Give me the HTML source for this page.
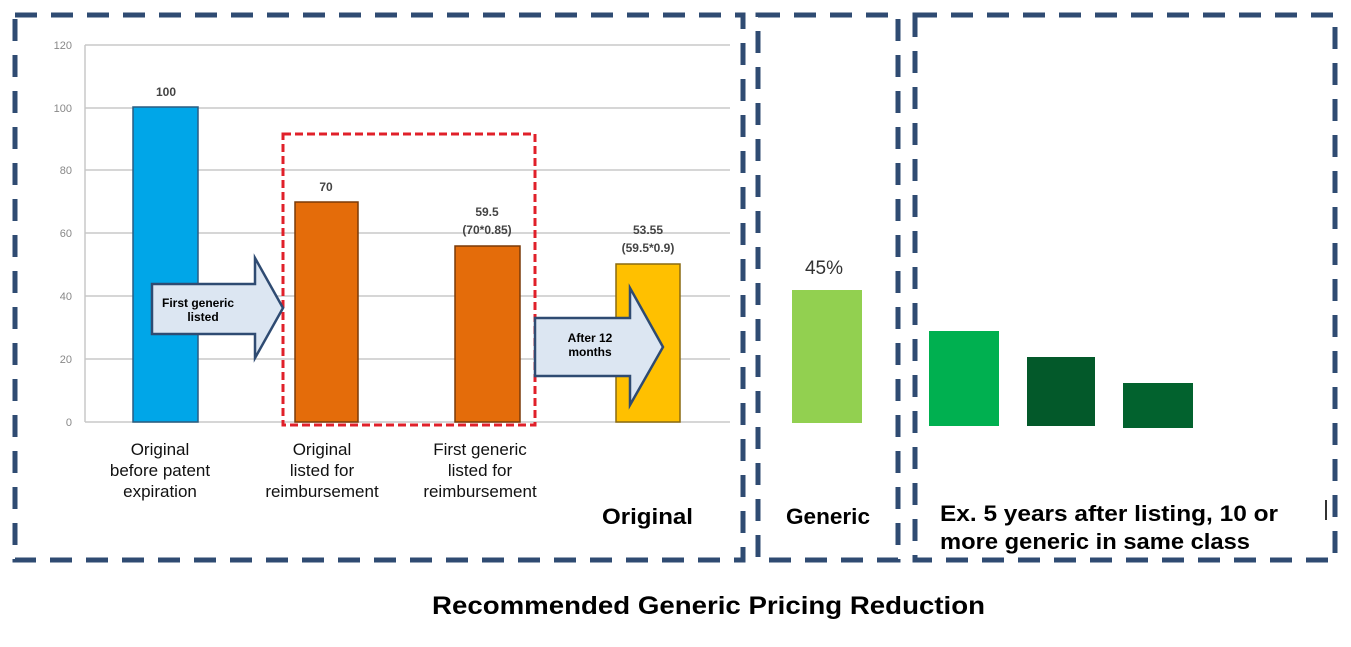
<!DOCTYPE html>
<html><head><meta charset="utf-8"><style>
html,body{margin:0;padding:0;background:#fff;width:1351px;height:647px;overflow:hidden}
svg{display:block}
text{font-family:"Liberation Sans","Noto Sans CJK KR",sans-serif}
</style></head><body>
<svg width="1351" height="647" viewBox="0 0 1351 647" xmlns="http://www.w3.org/2000/svg">
<g fill="none" stroke="#2f4b72" stroke-width="5" stroke-dasharray="22,14">
<rect x="15" y="15" width="728" height="545"/>
<rect x="758" y="15" width="140" height="545"/>
<rect x="915" y="15" width="420" height="545"/>
</g>
<g stroke="#c8c8c8" stroke-width="1.5">
<line x1="85" y1="45" x2="730" y2="45"/>
<line x1="85" y1="108" x2="730" y2="108"/>
<line x1="85" y1="170" x2="730" y2="170"/>
<line x1="85" y1="233" x2="730" y2="233"/>
<line x1="85" y1="296" x2="730" y2="296"/>
<line x1="85" y1="359" x2="730" y2="359"/>
<line x1="85" y1="422" x2="730" y2="422"/>
<line x1="85" y1="45" x2="85" y2="422"/>
</g>
<g font-size="11" fill="#888" text-anchor="end">
<text x="72" y="49">120</text><text x="72" y="112">100</text><text x="72" y="174">80</text>
<text x="72" y="237">60</text><text x="72" y="300">40</text><text x="72" y="363">20</text><text x="72" y="426">0</text>
</g>
<rect x="133" y="107" width="65" height="315" fill="#00a6e8" stroke="#2a5c80" stroke-width="1.5"/>
<rect x="295" y="202" width="63" height="220" fill="#e46c0a" stroke="#7a3a08" stroke-width="1.5"/>
<rect x="455" y="246" width="65" height="176" fill="#e46c0a" stroke="#7a3a08" stroke-width="1.5"/>
<rect x="616" y="264" width="64" height="158" fill="#ffc000" stroke="#8a6a10" stroke-width="1.5"/>
<g font-size="12" font-weight="bold" fill="#444" text-anchor="middle">
<text x="166" y="96">100</text><text x="326" y="191">70</text>
<text x="487" y="216">59.5</text><text x="487" y="234">(70*0.85)</text>
<text x="648" y="234">53.55</text><text x="648" y="252">(59.5*0.9)</text>
</g>
<rect x="283" y="134" width="252" height="291" fill="none" stroke="#e0202a" stroke-width="3" stroke-dasharray="8,4"/>
<polygon points="152,284 255,284 255,258 283,308 255,358 255,334 152,334" fill="#dce6f2" stroke="#2f4b72" stroke-width="2.5"/>
<text x="198" y="307" font-size="12" font-weight="bold" text-anchor="middle">First generic</text>
<text x="203" y="321" font-size="12" font-weight="bold" text-anchor="middle">listed</text>
<polygon points="535,318 630,318 630,288 663,347 630,405 630,376 535,376" fill="#dce6f2" stroke="#2f4b72" stroke-width="2.5"/>
<text x="590" y="342" font-size="12" font-weight="bold" text-anchor="middle">After 12</text>
<text x="590" y="356" font-size="12" font-weight="bold" text-anchor="middle">months</text>
<g font-size="17" fill="#111" text-anchor="middle">
<text x="160" y="455">Original</text><text x="160" y="476">before patent</text><text x="160" y="497">expiration</text>
<text x="322" y="455">Original</text><text x="322" y="476">listed for</text><text x="322" y="497">reimbursement</text>
<text x="480" y="455">First generic</text><text x="480" y="476">listed for</text><text x="480" y="497">reimbursement</text>
</g>
<text x="602" y="524" font-size="22" font-weight="bold" textLength="91" lengthAdjust="spacingAndGlyphs">Original</text>
<rect x="792" y="290" width="70" height="133" fill="#92d050"/>
<text x="824" y="274" font-size="19" fill="#333" text-anchor="middle">45%</text>
<text x="786" y="524" font-size="22" font-weight="bold" textLength="84" lengthAdjust="spacingAndGlyphs">Generic</text>
<rect x="929" y="331" width="70" height="95" fill="#00b050"/>
<rect x="1027" y="357" width="68" height="69" fill="#03592a"/>
<rect x="1123" y="383" width="70" height="45" fill="#02622e"/>
<line x1="1326" y1="500" x2="1326" y2="520" stroke="#333" stroke-width="2"/>
<text x="940" y="521" font-size="22" font-weight="bold" textLength="338" lengthAdjust="spacingAndGlyphs">Ex. 5 years after listing, 10 or</text>
<text x="940" y="549" font-size="22" font-weight="bold" textLength="310" lengthAdjust="spacingAndGlyphs">more generic in same class</text>
<text x="432" y="614" font-size="25" font-weight="bold" textLength="553" lengthAdjust="spacingAndGlyphs">Recommended Generic Pricing Reduction</text>
</svg>
</body></html>
